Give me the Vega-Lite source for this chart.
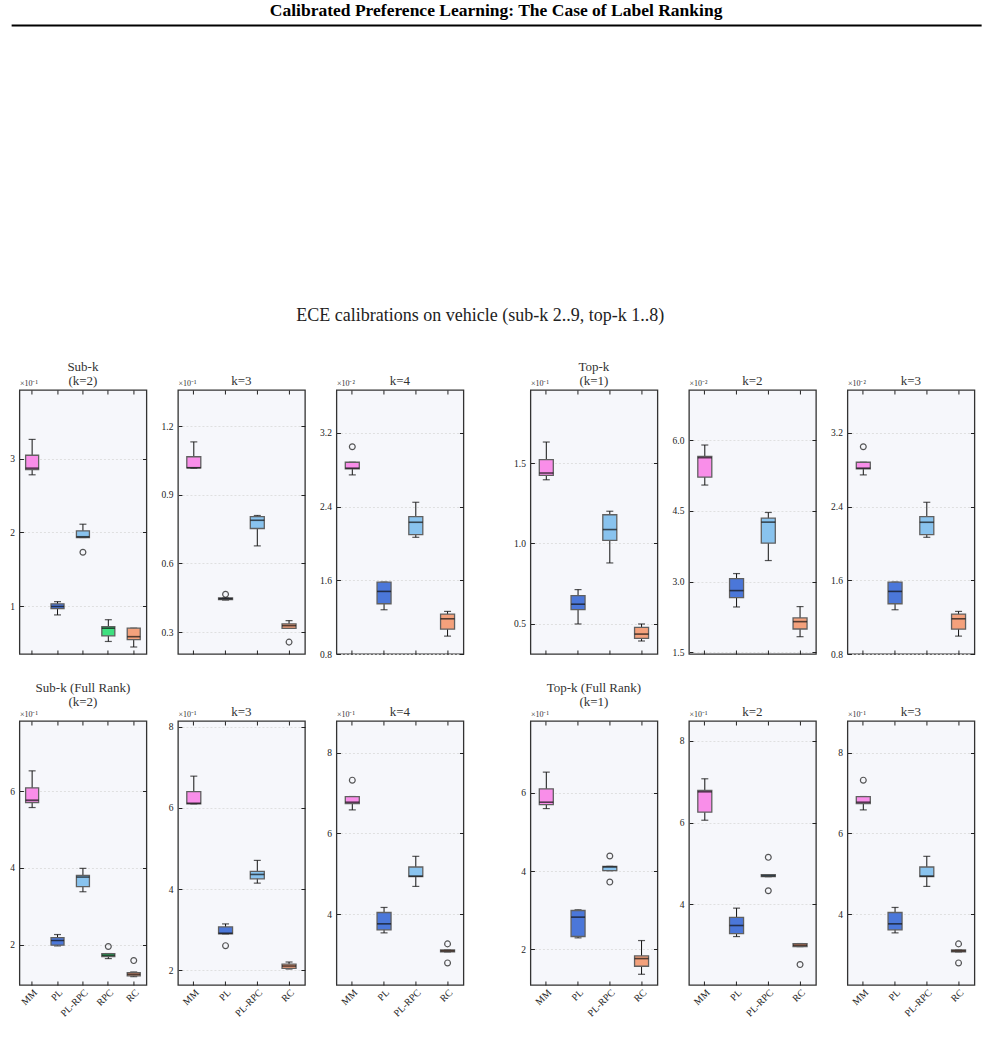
{
"$schema":"https://vega.github.io/schema/vega-lite/v6.json",
"padding":{"left":8,"top":2,"right":5,"bottom":5},
"datasets":{
"boxes":[
{"p":"r1c1","m":"MM","lo":0.278,"q1":0.285,"med":0.287,"q3":0.3045,"hi":0.326},
{"p":"r1c1","m":"PL","lo":0.088,"q1":0.0965,"med":0.0995,"q3":0.103,"hi":0.106},
{"p":"r1c1","m":"PL-RPC","lo":0.193,"q1":0.193,"med":0.194,"q3":0.202,"hi":0.211},
{"p":"r1c1","m":"RPC","lo":0.052,"q1":0.0595,"med":0.07,"q3":0.072,"hi":0.0815},
{"p":"r1c1","m":"RC","lo":0.0445,"q1":0.0545,"med":0.0585,"q3":0.07,"hi":0.07},
{"p":"r1c2","m":"MM","lo":0.1017,"q1":0.1018,"med":0.1019,"q3":0.1067,"hi":0.1132},
{"p":"r1c2","m":"PL","lo":0.044,"q1":0.0442,"med":0.0446,"q3":0.0449,"hi":0.045},
{"p":"r1c2","m":"PL-RPC","lo":0.0677,"q1":0.0753,"med":0.0789,"q3":0.0805,"hi":0.081},
{"p":"r1c2","m":"RC","lo":0.0316,"q1":0.0316,"med":0.0328,"q3":0.0336,"hi":0.035},
{"p":"r1c3","m":"MM","lo":0.02743,"q1":0.02809,"med":0.02816,"q3":0.0288,"hi":0.0288},
{"p":"r1c3","m":"PL","lo":0.0128,"q1":0.01345,"med":0.01479,"q3":0.0158,"hi":0.0158},
{"p":"r1c3","m":"PL-RPC","lo":0.02066,"q1":0.02095,"med":0.02229,"q3":0.02291,"hi":0.02446},
{"p":"r1c3","m":"RC","lo":0.00994,"q1":0.0107,"med":0.01182,"q3":0.01233,"hi":0.01262},
{"p":"r1c4","m":"MM","lo":0.1396,"q1":0.1423,"med":0.1438,"q3":0.1521,"hi":0.1631},
{"p":"r1c4","m":"PL","lo":0.0498,"q1":0.0587,"med":0.0621,"q3":0.0675,"hi":0.0712},
{"p":"r1c4","m":"PL-RPC","lo":0.0878,"q1":0.1018,"med":0.1086,"q3":0.1178,"hi":0.12},
{"p":"r1c4","m":"RC","lo":0.0392,"q1":0.0408,"med":0.0435,"q3":0.0477,"hi":0.0498},
{"p":"r1c5","m":"MM","lo":0.05045,"q1":0.05214,"med":0.05625,"q3":0.05653,"hi":0.05894},
{"p":"r1c5","m":"PL","lo":0.02461,"q1":0.0266,"med":0.02808,"q3":0.03063,"hi":0.03169},
{"p":"r1c5","m":"PL-RPC","lo":0.03445,"q1":0.03813,"med":0.04259,"q3":0.04344,"hi":0.04464},
{"p":"r1c5","m":"RC","lo":0.01831,"q1":0.01994,"med":0.0215,"q3":0.02228,"hi":0.02469},
{"p":"r1c6","m":"MM","lo":0.02743,"q1":0.02809,"med":0.02816,"q3":0.0288,"hi":0.0288},
{"p":"r1c6","m":"PL","lo":0.0128,"q1":0.01345,"med":0.01479,"q3":0.0158,"hi":0.0158},
{"p":"r1c6","m":"PL-RPC","lo":0.02066,"q1":0.02095,"med":0.02229,"q3":0.02291,"hi":0.02446},
{"p":"r1c6","m":"RC","lo":0.00994,"q1":0.0107,"med":0.01182,"q3":0.01233,"hi":0.01262},
{"p":"r2c1","m":"MM","lo":0.5573,"q1":0.5704,"med":0.5765,"q3":0.6087,"hi":0.653},
{"p":"r2c1","m":"PL","lo":0.1965,"q1":0.1983,"med":0.2105,"q3":0.2183,"hi":0.2261},
{"p":"r2c1","m":"PL-RPC","lo":0.3377,"q1":0.3508,"med":0.376,"q3":0.3804,"hi":0.3987},
{"p":"r2c1","m":"RPC","lo":0.1634,"q1":0.1686,"med":0.1721,"q3":0.1765,"hi":0.1765},
{"p":"r2c1","m":"RC","lo":0.1163,"q1":0.1181,"med":0.1224,"q3":0.1268,"hi":0.1285},
{"p":"r2c2","m":"MM","lo":0.6099,"q1":0.6099,"med":0.6115,"q3":0.6403,"hi":0.6782},
{"p":"r2c2","m":"PL","lo":0.2897,"q1":0.2897,"med":0.2914,"q3":0.307,"hi":0.3144},
{"p":"r2c2","m":"PL-RPC","lo":0.4148,"q1":0.4255,"med":0.4362,"q3":0.4436,"hi":0.4708},
{"p":"r2c2","m":"RC","lo":0.2033,"q1":0.2049,"med":0.2107,"q3":0.2156,"hi":0.2206},
{"p":"r2c3","m":"MM","lo":0.6584,"q1":0.6741,"med":0.6774,"q3":0.6915,"hi":0.6915},
{"p":"r2c3","m":"PL","lo":0.3536,"q1":0.3611,"med":0.376,"q3":0.4041,"hi":0.4166},
{"p":"r2c3","m":"PL-RPC","lo":0.4687,"q1":0.4928,"med":0.4944,"q3":0.5168,"hi":0.5433},
{"p":"r2c3","m":"RC","lo":0.3064,"q1":0.3064,"med":0.3089,"q3":0.3114,"hi":0.3114},
{"p":"r2c4","m":"MM","lo":0.5598,"q1":0.5701,"med":0.5761,"q3":0.6103,"hi":0.653},
{"p":"r2c4","m":"PL","lo":0.2291,"q1":0.2325,"med":0.2821,"q3":0.2991,"hi":0.3009},
{"p":"r2c4","m":"PL-RPC","lo":0.4009,"q1":0.4009,"med":0.4103,"q3":0.412,"hi":0.412},
{"p":"r2c4","m":"RC","lo":0.1359,"q1":0.1564,"med":0.1761,"q3":0.1829,"hi":0.2222},
{"p":"r2c5","m":"MM","lo":0.6057,"q1":0.6253,"med":0.6751,"q3":0.6784,"hi":0.7069},
{"p":"r2c5","m":"PL","lo":0.3216,"q1":0.329,"med":0.3486,"q3":0.3682,"hi":0.391},
{"p":"r2c5","m":"PL-RPC","lo":0.4678,"q1":0.4678,"med":0.4702,"q3":0.4727,"hi":0.4727},
{"p":"r2c5","m":"RC","lo":0.2971,"q1":0.2971,"med":0.3004,"q3":0.3045,"hi":0.3045},
{"p":"r2c6","m":"MM","lo":0.6584,"q1":0.6741,"med":0.6774,"q3":0.6915,"hi":0.6915},
{"p":"r2c6","m":"PL","lo":0.3536,"q1":0.3611,"med":0.376,"q3":0.4041,"hi":0.4166},
{"p":"r2c6","m":"PL-RPC","lo":0.4687,"q1":0.4928,"med":0.4944,"q3":0.5168,"hi":0.5433},
{"p":"r2c6","m":"RC","lo":0.3064,"q1":0.3064,"med":0.3089,"q3":0.3114,"hi":0.3114}
],
"outliers":[
{"p":"r1c1","m":"PL-RPC","v":0.173},
{"p":"r1c2","m":"PL","v":0.0465},
{"p":"r1c2","m":"RC","v":0.0256},
{"p":"r1c3","m":"MM","v":0.03048},
{"p":"r1c6","m":"MM","v":0.03048},
{"p":"r2c1","m":"RPC","v":0.1948},
{"p":"r2c1","m":"RC","v":0.1582},
{"p":"r2c2","m":"PL","v":0.2609},
{"p":"r2c3","m":"MM","v":0.7321},
{"p":"r2c3","m":"RC","v":0.3263},
{"p":"r2c3","m":"RC","v":0.2791},
{"p":"r2c4","m":"PL-RPC","v":0.4385},
{"p":"r2c4","m":"PL-RPC","v":0.3718},
{"p":"r2c5","m":"PL-RPC","v":0.5151},
{"p":"r2c5","m":"PL-RPC","v":0.4335},
{"p":"r2c5","m":"RC","v":0.2531},
{"p":"r2c6","m":"MM","v":0.7321},
{"p":"r2c6","m":"RC","v":0.3263},
{"p":"r2c6","m":"RC","v":0.2791}
],
"header":[{"v":0},{"v":1}],
"blank":[{"s":0}]
},
"center":true,
"spacing":279,
"vconcat":[
{
"width":970,"height":1,
"view":{"stroke":null,"fill":null},
"title":{"text":"Calibrated Preference Learning: The Case of Label Ranking","fontSize":17.5,"fontWeight":"bold","color":"#000","offset":2},
"data":{"name":"header"},
"mark":{"type":"point","opacity":0},
"encoding":{"x":{"field":"v","type":"quantitative","scale":{"domain":[0,1],"nice":false},"axis":{"orient":"bottom","labels":false,"ticks":false,"grid":false,"title":null,"domain":true,"domainColor":"#000","domainWidth":2}}}
},
{
"title":{"text":"ECE calibrations on vehicle (sub-k 2..9, top-k 1..8)","fontSize":18,"offset":35,"anchor":"middle","dx":-12,"color":"#222"},
"bounds":"flush",
"columns":7,
"spacing":{"row":67,"column":31.5},
"concat":[
{"width":127,"height":264,"title":{"text":["Sub-k","(k=2)"]},"data":{"name":"boxes"},"transform":[{"filter":"datum.p==='r1c1'"}],"resolve":{"axis":{"x":"independent","y":"independent"}},
"layer":[
{"mark":{"type":"rule","color":"#111","strokeWidth":1},"encoding":{"x":{"field":"m","type":"nominal","scale":{"domain":["MM","PL","PL-RPC","RPC","RC"],"paddingInner":0,"paddingOuter":0},"axis":{"orient":"bottom","labels":false,"title":null}},"y":{"field":"lo","type":"quantitative","scale":{"domain":[0.035,0.393],"nice":false,"zero":false},"axis":{"orient":"left","values":[0.1,0.2,0.3],"labelExpr":"format(datum.value*10,'.0f')","title":"×10⁻¹"}},"y2":{"field":"hi"}}},
{"mark":{"type":"tick","orient":"horizontal","size":7,"thickness":1.2,"color":"#111"},"encoding":{"x":{"field":"m","type":"nominal","axis":{"orient":"top","title":null}},"y":{"field":"lo","type":"quantitative","axis":{"orient":"right","values":[0.1,0.2,0.3],"title":null}}}},
{"mark":{"type":"tick","orient":"horizontal","size":7,"thickness":1.2,"color":"#111"},"encoding":{"x":{"field":"m","type":"nominal","axis":null},"y":{"field":"hi","type":"quantitative","axis":null}}},
{"mark":{"type":"bar","width":13,"stroke":"#606060","strokeWidth":1.3},"encoding":{"x":{"field":"m","type":"nominal","axis":null},"y":{"field":"q1","type":"quantitative","axis":null},"y2":{"field":"q3"},"color":{"field":"m","type":"nominal","scale":{"domain":["MM","PL","PL-RPC","RPC","RC"],"range":["#f98ee9","#4b77d9","#89c3ee","#3ee07f","#f4a17c"]},"legend":null}}},
{"mark":{"type":"tick","orient":"horizontal","size":13,"thickness":1.6,"color":"#111"},"encoding":{"x":{"field":"m","type":"nominal","axis":null},"y":{"field":"med","type":"quantitative","axis":null}}},
{"data":{"name":"outliers"},"transform":[{"filter":"datum.p==='r1c1'"}],"mark":{"type":"point","shape":"circle","filled":false,"color":"#111","size":34,"strokeWidth":1.2},"encoding":{"x":{"field":"m","type":"nominal","axis":null},"y":{"field":"v","type":"quantitative","axis":null}}}
]},
{"width":127,"height":264,"title":{"text":"k=3"},"data":{"name":"boxes"},"transform":[{"filter":"datum.p==='r1c2'"}],"resolve":{"axis":{"x":"independent","y":"independent"}},
"layer":[
{"mark":{"type":"rule","color":"#111","strokeWidth":1},"encoding":{"x":{"field":"m","type":"nominal","scale":{"domain":["MM","PL","PL-RPC","RC"],"paddingInner":0,"paddingOuter":0},"axis":{"orient":"bottom","labels":false,"title":null}},"y":{"field":"lo","type":"quantitative","scale":{"domain":[0.0204,0.1359],"nice":false,"zero":false},"axis":{"orient":"left","values":[0.03,0.06,0.09,0.12],"labelExpr":"format(datum.value*10,'.1f')","title":"×10⁻¹"}},"y2":{"field":"hi"}}},
{"mark":{"type":"tick","orient":"horizontal","size":7,"thickness":1.2,"color":"#111"},"encoding":{"x":{"field":"m","type":"nominal","axis":{"orient":"top","title":null}},"y":{"field":"lo","type":"quantitative","axis":{"orient":"right","values":[0.03,0.06,0.09,0.12],"title":null}}}},
{"mark":{"type":"tick","orient":"horizontal","size":7,"thickness":1.2,"color":"#111"},"encoding":{"x":{"field":"m","type":"nominal","axis":null},"y":{"field":"hi","type":"quantitative","axis":null}}},
{"mark":{"type":"bar","width":14,"stroke":"#606060","strokeWidth":1.3},"encoding":{"x":{"field":"m","type":"nominal","axis":null},"y":{"field":"q1","type":"quantitative","axis":null},"y2":{"field":"q3"},"color":{"field":"m","type":"nominal","scale":{"domain":["MM","PL","PL-RPC","RPC","RC"],"range":["#f98ee9","#4b77d9","#89c3ee","#3ee07f","#f4a17c"]},"legend":null}}},
{"mark":{"type":"tick","orient":"horizontal","size":14,"thickness":1.6,"color":"#111"},"encoding":{"x":{"field":"m","type":"nominal","axis":null},"y":{"field":"med","type":"quantitative","axis":null}}},
{"data":{"name":"outliers"},"transform":[{"filter":"datum.p==='r1c2'"}],"mark":{"type":"point","shape":"circle","filled":false,"color":"#111","size":34,"strokeWidth":1.2},"encoding":{"x":{"field":"m","type":"nominal","axis":null},"y":{"field":"v","type":"quantitative","axis":null}}}
]},
{"width":127,"height":264,"title":{"text":"k=4"},"data":{"name":"boxes"},"transform":[{"filter":"datum.p==='r1c3'"}],"resolve":{"axis":{"x":"independent","y":"independent"}},
"layer":[
{"mark":{"type":"rule","color":"#111","strokeWidth":1},"encoding":{"x":{"field":"m","type":"nominal","scale":{"domain":["MM","PL","PL-RPC","RC"],"paddingInner":0,"paddingOuter":0},"axis":{"orient":"bottom","labels":false,"title":null}},"y":{"field":"lo","type":"quantitative","scale":{"domain":[0.008,0.03664],"nice":false,"zero":false},"axis":{"orient":"left","values":[0.008,0.016,0.024,0.032],"labelExpr":"format(datum.value*100,'.1f')","title":"×10⁻²"}},"y2":{"field":"hi"}}},
{"mark":{"type":"tick","orient":"horizontal","size":7,"thickness":1.2,"color":"#111"},"encoding":{"x":{"field":"m","type":"nominal","axis":{"orient":"top","title":null}},"y":{"field":"lo","type":"quantitative","axis":{"orient":"right","values":[0.008,0.016,0.024,0.032],"title":null}}}},
{"mark":{"type":"tick","orient":"horizontal","size":7,"thickness":1.2,"color":"#111"},"encoding":{"x":{"field":"m","type":"nominal","axis":null},"y":{"field":"hi","type":"quantitative","axis":null}}},
{"mark":{"type":"bar","width":14,"stroke":"#606060","strokeWidth":1.3},"encoding":{"x":{"field":"m","type":"nominal","axis":null},"y":{"field":"q1","type":"quantitative","axis":null},"y2":{"field":"q3"},"color":{"field":"m","type":"nominal","scale":{"domain":["MM","PL","PL-RPC","RPC","RC"],"range":["#f98ee9","#4b77d9","#89c3ee","#3ee07f","#f4a17c"]},"legend":null}}},
{"mark":{"type":"tick","orient":"horizontal","size":14,"thickness":1.6,"color":"#111"},"encoding":{"x":{"field":"m","type":"nominal","axis":null},"y":{"field":"med","type":"quantitative","axis":null}}},
{"data":{"name":"outliers"},"transform":[{"filter":"datum.p==='r1c3'"}],"mark":{"type":"point","shape":"circle","filled":false,"color":"#111","size":34,"strokeWidth":1.2},"encoding":{"x":{"field":"m","type":"nominal","axis":null},"y":{"field":"v","type":"quantitative","axis":null}}}
]},
{"width":4,"height":264,"view":{"stroke":null,"fill":null},"data":{"name":"blank"},"mark":{"type":"point","opacity":0},"encoding":{}},
{"width":127,"height":264,"title":{"text":["Top-k","(k=1)"]},"data":{"name":"boxes"},"transform":[{"filter":"datum.p==='r1c4'"}],"resolve":{"axis":{"x":"independent","y":"independent"}},
"layer":[
{"mark":{"type":"rule","color":"#111","strokeWidth":1},"encoding":{"x":{"field":"m","type":"nominal","scale":{"domain":["MM","PL","PL-RPC","RC"],"paddingInner":0,"paddingOuter":0},"axis":{"orient":"bottom","labels":false,"title":null}},"y":{"field":"lo","type":"quantitative","scale":{"domain":[0.0311,0.1955],"nice":false,"zero":false},"axis":{"orient":"left","values":[0.05,0.1,0.15],"labelExpr":"format(datum.value*10,'.1f')","title":"×10⁻¹"}},"y2":{"field":"hi"}}},
{"mark":{"type":"tick","orient":"horizontal","size":7,"thickness":1.2,"color":"#111"},"encoding":{"x":{"field":"m","type":"nominal","axis":{"orient":"top","title":null}},"y":{"field":"lo","type":"quantitative","axis":{"orient":"right","values":[0.05,0.1,0.15],"title":null}}}},
{"mark":{"type":"tick","orient":"horizontal","size":7,"thickness":1.2,"color":"#111"},"encoding":{"x":{"field":"m","type":"nominal","axis":null},"y":{"field":"hi","type":"quantitative","axis":null}}},
{"mark":{"type":"bar","width":14,"stroke":"#606060","strokeWidth":1.3},"encoding":{"x":{"field":"m","type":"nominal","axis":null},"y":{"field":"q1","type":"quantitative","axis":null},"y2":{"field":"q3"},"color":{"field":"m","type":"nominal","scale":{"domain":["MM","PL","PL-RPC","RPC","RC"],"range":["#f98ee9","#4b77d9","#89c3ee","#3ee07f","#f4a17c"]},"legend":null}}},
{"mark":{"type":"tick","orient":"horizontal","size":14,"thickness":1.6,"color":"#111"},"encoding":{"x":{"field":"m","type":"nominal","axis":null},"y":{"field":"med","type":"quantitative","axis":null}}},
{"data":{"name":"outliers"},"transform":[{"filter":"datum.p==='r1c4'"}],"mark":{"type":"point","shape":"circle","filled":false,"color":"#111","size":34,"strokeWidth":1.2},"encoding":{"x":{"field":"m","type":"nominal","axis":null},"y":{"field":"v","type":"quantitative","axis":null}}}
]},
{"width":127,"height":264,"title":{"text":"k=2"},"data":{"name":"boxes"},"transform":[{"filter":"datum.p==='r1c5'"}],"resolve":{"axis":{"x":"independent","y":"independent"}},
"layer":[
{"mark":{"type":"rule","color":"#111","strokeWidth":1},"encoding":{"x":{"field":"m","type":"nominal","scale":{"domain":["MM","PL","PL-RPC","RC"],"paddingInner":0,"paddingOuter":0},"axis":{"orient":"bottom","labels":false,"title":null}},"y":{"field":"lo","type":"quantitative","scale":{"domain":[0.01464,0.0706],"nice":false,"zero":false},"axis":{"orient":"left","values":[0.015,0.03,0.045,0.06],"labelExpr":"format(datum.value*100,'.1f')","title":"×10⁻²"}},"y2":{"field":"hi"}}},
{"mark":{"type":"tick","orient":"horizontal","size":7,"thickness":1.2,"color":"#111"},"encoding":{"x":{"field":"m","type":"nominal","axis":{"orient":"top","title":null}},"y":{"field":"lo","type":"quantitative","axis":{"orient":"right","values":[0.015,0.03,0.045,0.06],"title":null}}}},
{"mark":{"type":"tick","orient":"horizontal","size":7,"thickness":1.2,"color":"#111"},"encoding":{"x":{"field":"m","type":"nominal","axis":null},"y":{"field":"hi","type":"quantitative","axis":null}}},
{"mark":{"type":"bar","width":14,"stroke":"#606060","strokeWidth":1.3},"encoding":{"x":{"field":"m","type":"nominal","axis":null},"y":{"field":"q1","type":"quantitative","axis":null},"y2":{"field":"q3"},"color":{"field":"m","type":"nominal","scale":{"domain":["MM","PL","PL-RPC","RPC","RC"],"range":["#f98ee9","#4b77d9","#89c3ee","#3ee07f","#f4a17c"]},"legend":null}}},
{"mark":{"type":"tick","orient":"horizontal","size":14,"thickness":1.6,"color":"#111"},"encoding":{"x":{"field":"m","type":"nominal","axis":null},"y":{"field":"med","type":"quantitative","axis":null}}},
{"data":{"name":"outliers"},"transform":[{"filter":"datum.p==='r1c5'"}],"mark":{"type":"point","shape":"circle","filled":false,"color":"#111","size":34,"strokeWidth":1.2},"encoding":{"x":{"field":"m","type":"nominal","axis":null},"y":{"field":"v","type":"quantitative","axis":null}}}
]},
{"width":127,"height":264,"title":{"text":"k=3"},"data":{"name":"boxes"},"transform":[{"filter":"datum.p==='r1c6'"}],"resolve":{"axis":{"x":"independent","y":"independent"}},
"layer":[
{"mark":{"type":"rule","color":"#111","strokeWidth":1},"encoding":{"x":{"field":"m","type":"nominal","scale":{"domain":["MM","PL","PL-RPC","RC"],"paddingInner":0,"paddingOuter":0},"axis":{"orient":"bottom","labels":false,"title":null}},"y":{"field":"lo","type":"quantitative","scale":{"domain":[0.008,0.03664],"nice":false,"zero":false},"axis":{"orient":"left","values":[0.008,0.016,0.024,0.032],"labelExpr":"format(datum.value*100,'.1f')","title":"×10⁻²"}},"y2":{"field":"hi"}}},
{"mark":{"type":"tick","orient":"horizontal","size":7,"thickness":1.2,"color":"#111"},"encoding":{"x":{"field":"m","type":"nominal","axis":{"orient":"top","title":null}},"y":{"field":"lo","type":"quantitative","axis":{"orient":"right","values":[0.008,0.016,0.024,0.032],"title":null}}}},
{"mark":{"type":"tick","orient":"horizontal","size":7,"thickness":1.2,"color":"#111"},"encoding":{"x":{"field":"m","type":"nominal","axis":null},"y":{"field":"hi","type":"quantitative","axis":null}}},
{"mark":{"type":"bar","width":14,"stroke":"#606060","strokeWidth":1.3},"encoding":{"x":{"field":"m","type":"nominal","axis":null},"y":{"field":"q1","type":"quantitative","axis":null},"y2":{"field":"q3"},"color":{"field":"m","type":"nominal","scale":{"domain":["MM","PL","PL-RPC","RPC","RC"],"range":["#f98ee9","#4b77d9","#89c3ee","#3ee07f","#f4a17c"]},"legend":null}}},
{"mark":{"type":"tick","orient":"horizontal","size":14,"thickness":1.6,"color":"#111"},"encoding":{"x":{"field":"m","type":"nominal","axis":null},"y":{"field":"med","type":"quantitative","axis":null}}},
{"data":{"name":"outliers"},"transform":[{"filter":"datum.p==='r1c6'"}],"mark":{"type":"point","shape":"circle","filled":false,"color":"#111","size":34,"strokeWidth":1.2},"encoding":{"x":{"field":"m","type":"nominal","axis":null},"y":{"field":"v","type":"quantitative","axis":null}}}
]},
{"width":127,"height":264,"title":{"text":["Sub-k (Full Rank)","(k=2)"],"offset":1},"data":{"name":"boxes"},"transform":[{"filter":"datum.p==='r2c1'"}],"resolve":{"axis":{"x":"independent","y":"independent"}},
"layer":[
{"mark":{"type":"rule","color":"#111","strokeWidth":1},"encoding":{"x":{"field":"m","type":"nominal","scale":{"domain":["MM","PL","PL-RPC","RPC","RC"],"paddingInner":0,"paddingOuter":0},"axis":{"orient":"bottom","labelAngle":-45,"labelAlign":"right","labelBaseline":"top","labelPadding":6,"labelFontSize":10,"title":null}},"y":{"field":"lo","type":"quantitative","scale":{"domain":[0.0945,0.783],"nice":false,"zero":false},"axis":{"orient":"left","values":[0.2,0.4,0.6],"labelExpr":"format(datum.value*10,'.0f')","title":"×10⁻¹"}},"y2":{"field":"hi"}}},
{"mark":{"type":"tick","orient":"horizontal","size":7,"thickness":1.2,"color":"#111"},"encoding":{"x":{"field":"m","type":"nominal","axis":{"orient":"top","title":null}},"y":{"field":"lo","type":"quantitative","axis":{"orient":"right","values":[0.2,0.4,0.6],"title":null}}}},
{"mark":{"type":"tick","orient":"horizontal","size":7,"thickness":1.2,"color":"#111"},"encoding":{"x":{"field":"m","type":"nominal","axis":null},"y":{"field":"hi","type":"quantitative","axis":null}}},
{"mark":{"type":"bar","width":13,"stroke":"#606060","strokeWidth":1.3},"encoding":{"x":{"field":"m","type":"nominal","axis":null},"y":{"field":"q1","type":"quantitative","axis":null},"y2":{"field":"q3"},"color":{"field":"m","type":"nominal","scale":{"domain":["MM","PL","PL-RPC","RPC","RC"],"range":["#f98ee9","#4b77d9","#89c3ee","#3ee07f","#f4a17c"]},"legend":null}}},
{"mark":{"type":"tick","orient":"horizontal","size":13,"thickness":1.6,"color":"#111"},"encoding":{"x":{"field":"m","type":"nominal","axis":null},"y":{"field":"med","type":"quantitative","axis":null}}},
{"data":{"name":"outliers"},"transform":[{"filter":"datum.p==='r2c1'"}],"mark":{"type":"point","shape":"circle","filled":false,"color":"#111","size":34,"strokeWidth":1.2},"encoding":{"x":{"field":"m","type":"nominal","axis":null},"y":{"field":"v","type":"quantitative","axis":null}}}
]},
{"width":127,"height":264,"title":{"text":"k=3"},"data":{"name":"boxes"},"transform":[{"filter":"datum.p==='r2c2'"}],"resolve":{"axis":{"x":"independent","y":"independent"}},
"layer":[
{"mark":{"type":"rule","color":"#111","strokeWidth":1},"encoding":{"x":{"field":"m","type":"nominal","scale":{"domain":["MM","PL","PL-RPC","RC"],"paddingInner":0,"paddingOuter":0},"axis":{"orient":"bottom","labelAngle":-45,"labelAlign":"right","labelBaseline":"top","labelPadding":6,"labelFontSize":10,"title":null}},"y":{"field":"lo","type":"quantitative","scale":{"domain":[0.164,0.814],"nice":false,"zero":false},"axis":{"orient":"left","values":[0.2,0.4,0.6,0.8],"labelExpr":"format(datum.value*10,'.0f')","title":"×10⁻¹"}},"y2":{"field":"hi"}}},
{"mark":{"type":"tick","orient":"horizontal","size":7,"thickness":1.2,"color":"#111"},"encoding":{"x":{"field":"m","type":"nominal","axis":{"orient":"top","title":null}},"y":{"field":"lo","type":"quantitative","axis":{"orient":"right","values":[0.2,0.4,0.6,0.8],"title":null}}}},
{"mark":{"type":"tick","orient":"horizontal","size":7,"thickness":1.2,"color":"#111"},"encoding":{"x":{"field":"m","type":"nominal","axis":null},"y":{"field":"hi","type":"quantitative","axis":null}}},
{"mark":{"type":"bar","width":14,"stroke":"#606060","strokeWidth":1.3},"encoding":{"x":{"field":"m","type":"nominal","axis":null},"y":{"field":"q1","type":"quantitative","axis":null},"y2":{"field":"q3"},"color":{"field":"m","type":"nominal","scale":{"domain":["MM","PL","PL-RPC","RPC","RC"],"range":["#f98ee9","#4b77d9","#89c3ee","#3ee07f","#f4a17c"]},"legend":null}}},
{"mark":{"type":"tick","orient":"horizontal","size":14,"thickness":1.6,"color":"#111"},"encoding":{"x":{"field":"m","type":"nominal","axis":null},"y":{"field":"med","type":"quantitative","axis":null}}},
{"data":{"name":"outliers"},"transform":[{"filter":"datum.p==='r2c2'"}],"mark":{"type":"point","shape":"circle","filled":false,"color":"#111","size":34,"strokeWidth":1.2},"encoding":{"x":{"field":"m","type":"nominal","axis":null},"y":{"field":"v","type":"quantitative","axis":null}}}
]},
{"width":127,"height":264,"title":{"text":"k=4"},"data":{"name":"boxes"},"transform":[{"filter":"datum.p==='r2c3'"}],"resolve":{"axis":{"x":"independent","y":"independent"}},
"layer":[
{"mark":{"type":"rule","color":"#111","strokeWidth":1},"encoding":{"x":{"field":"m","type":"nominal","scale":{"domain":["MM","PL","PL-RPC","RC"],"paddingInner":0,"paddingOuter":0},"axis":{"orient":"bottom","labelAngle":-45,"labelAlign":"right","labelBaseline":"top","labelPadding":6,"labelFontSize":10,"title":null}},"y":{"field":"lo","type":"quantitative","scale":{"domain":[0.2244,0.8787],"nice":false,"zero":false},"axis":{"orient":"left","values":[0.4,0.6,0.8],"labelExpr":"format(datum.value*10,'.0f')","title":"×10⁻¹"}},"y2":{"field":"hi"}}},
{"mark":{"type":"tick","orient":"horizontal","size":7,"thickness":1.2,"color":"#111"},"encoding":{"x":{"field":"m","type":"nominal","axis":{"orient":"top","title":null}},"y":{"field":"lo","type":"quantitative","axis":{"orient":"right","values":[0.4,0.6,0.8],"title":null}}}},
{"mark":{"type":"tick","orient":"horizontal","size":7,"thickness":1.2,"color":"#111"},"encoding":{"x":{"field":"m","type":"nominal","axis":null},"y":{"field":"hi","type":"quantitative","axis":null}}},
{"mark":{"type":"bar","width":14,"stroke":"#606060","strokeWidth":1.3},"encoding":{"x":{"field":"m","type":"nominal","axis":null},"y":{"field":"q1","type":"quantitative","axis":null},"y2":{"field":"q3"},"color":{"field":"m","type":"nominal","scale":{"domain":["MM","PL","PL-RPC","RPC","RC"],"range":["#f98ee9","#4b77d9","#89c3ee","#3ee07f","#f4a17c"]},"legend":null}}},
{"mark":{"type":"tick","orient":"horizontal","size":14,"thickness":1.6,"color":"#111"},"encoding":{"x":{"field":"m","type":"nominal","axis":null},"y":{"field":"med","type":"quantitative","axis":null}}},
{"data":{"name":"outliers"},"transform":[{"filter":"datum.p==='r2c3'"}],"mark":{"type":"point","shape":"circle","filled":false,"color":"#111","size":34,"strokeWidth":1.2},"encoding":{"x":{"field":"m","type":"nominal","axis":null},"y":{"field":"v","type":"quantitative","axis":null}}}
]},
{"width":4,"height":264,"view":{"stroke":null,"fill":null},"data":{"name":"blank"},"mark":{"type":"point","opacity":0},"encoding":{}},
{"width":127,"height":264,"title":{"text":["Top-k (Full Rank)","(k=1)"],"offset":1},"data":{"name":"boxes"},"transform":[{"filter":"datum.p==='r2c4'"}],"resolve":{"axis":{"x":"independent","y":"independent"}},
"layer":[
{"mark":{"type":"rule","color":"#111","strokeWidth":1},"encoding":{"x":{"field":"m","type":"nominal","scale":{"domain":["MM","PL","PL-RPC","RC"],"paddingInner":0,"paddingOuter":0},"axis":{"orient":"bottom","labelAngle":-45,"labelAlign":"right","labelBaseline":"top","labelPadding":6,"labelFontSize":10,"title":null}},"y":{"field":"lo","type":"quantitative","scale":{"domain":[0.1085,0.7838],"nice":false,"zero":false},"axis":{"orient":"left","values":[0.2,0.4,0.6],"labelExpr":"format(datum.value*10,'.0f')","title":"×10⁻¹"}},"y2":{"field":"hi"}}},
{"mark":{"type":"tick","orient":"horizontal","size":7,"thickness":1.2,"color":"#111"},"encoding":{"x":{"field":"m","type":"nominal","axis":{"orient":"top","title":null}},"y":{"field":"lo","type":"quantitative","axis":{"orient":"right","values":[0.2,0.4,0.6],"title":null}}}},
{"mark":{"type":"tick","orient":"horizontal","size":7,"thickness":1.2,"color":"#111"},"encoding":{"x":{"field":"m","type":"nominal","axis":null},"y":{"field":"hi","type":"quantitative","axis":null}}},
{"mark":{"type":"bar","width":14,"stroke":"#606060","strokeWidth":1.3},"encoding":{"x":{"field":"m","type":"nominal","axis":null},"y":{"field":"q1","type":"quantitative","axis":null},"y2":{"field":"q3"},"color":{"field":"m","type":"nominal","scale":{"domain":["MM","PL","PL-RPC","RPC","RC"],"range":["#f98ee9","#4b77d9","#89c3ee","#3ee07f","#f4a17c"]},"legend":null}}},
{"mark":{"type":"tick","orient":"horizontal","size":14,"thickness":1.6,"color":"#111"},"encoding":{"x":{"field":"m","type":"nominal","axis":null},"y":{"field":"med","type":"quantitative","axis":null}}},
{"data":{"name":"outliers"},"transform":[{"filter":"datum.p==='r2c4'"}],"mark":{"type":"point","shape":"circle","filled":false,"color":"#111","size":34,"strokeWidth":1.2},"encoding":{"x":{"field":"m","type":"nominal","axis":null},"y":{"field":"v","type":"quantitative","axis":null}}}
]},
{"width":127,"height":264,"title":{"text":"k=2"},"data":{"name":"boxes"},"transform":[{"filter":"datum.p==='r2c5'"}],"resolve":{"axis":{"x":"independent","y":"independent"}},
"layer":[
{"mark":{"type":"rule","color":"#111","strokeWidth":1},"encoding":{"x":{"field":"m","type":"nominal","scale":{"domain":["MM","PL","PL-RPC","RC"],"paddingInner":0,"paddingOuter":0},"axis":{"orient":"bottom","labelAngle":-45,"labelAlign":"right","labelBaseline":"top","labelPadding":6,"labelFontSize":10,"title":null}},"y":{"field":"lo","type":"quantitative","scale":{"domain":[0.2033,0.848],"nice":false,"zero":false},"axis":{"orient":"left","values":[0.4,0.6,0.8],"labelExpr":"format(datum.value*10,'.0f')","title":"×10⁻¹"}},"y2":{"field":"hi"}}},
{"mark":{"type":"tick","orient":"horizontal","size":7,"thickness":1.2,"color":"#111"},"encoding":{"x":{"field":"m","type":"nominal","axis":{"orient":"top","title":null}},"y":{"field":"lo","type":"quantitative","axis":{"orient":"right","values":[0.4,0.6,0.8],"title":null}}}},
{"mark":{"type":"tick","orient":"horizontal","size":7,"thickness":1.2,"color":"#111"},"encoding":{"x":{"field":"m","type":"nominal","axis":null},"y":{"field":"hi","type":"quantitative","axis":null}}},
{"mark":{"type":"bar","width":14,"stroke":"#606060","strokeWidth":1.3},"encoding":{"x":{"field":"m","type":"nominal","axis":null},"y":{"field":"q1","type":"quantitative","axis":null},"y2":{"field":"q3"},"color":{"field":"m","type":"nominal","scale":{"domain":["MM","PL","PL-RPC","RPC","RC"],"range":["#f98ee9","#4b77d9","#89c3ee","#3ee07f","#f4a17c"]},"legend":null}}},
{"mark":{"type":"tick","orient":"horizontal","size":14,"thickness":1.6,"color":"#111"},"encoding":{"x":{"field":"m","type":"nominal","axis":null},"y":{"field":"med","type":"quantitative","axis":null}}},
{"data":{"name":"outliers"},"transform":[{"filter":"datum.p==='r2c5'"}],"mark":{"type":"point","shape":"circle","filled":false,"color":"#111","size":34,"strokeWidth":1.2},"encoding":{"x":{"field":"m","type":"nominal","axis":null},"y":{"field":"v","type":"quantitative","axis":null}}}
]},
{"width":127,"height":264,"title":{"text":"k=3"},"data":{"name":"boxes"},"transform":[{"filter":"datum.p==='r2c6'"}],"resolve":{"axis":{"x":"independent","y":"independent"}},
"layer":[
{"mark":{"type":"rule","color":"#111","strokeWidth":1},"encoding":{"x":{"field":"m","type":"nominal","scale":{"domain":["MM","PL","PL-RPC","RC"],"paddingInner":0,"paddingOuter":0},"axis":{"orient":"bottom","labelAngle":-45,"labelAlign":"right","labelBaseline":"top","labelPadding":6,"labelFontSize":10,"title":null}},"y":{"field":"lo","type":"quantitative","scale":{"domain":[0.2244,0.8787],"nice":false,"zero":false},"axis":{"orient":"left","values":[0.4,0.6,0.8],"labelExpr":"format(datum.value*10,'.0f')","title":"×10⁻¹"}},"y2":{"field":"hi"}}},
{"mark":{"type":"tick","orient":"horizontal","size":7,"thickness":1.2,"color":"#111"},"encoding":{"x":{"field":"m","type":"nominal","axis":{"orient":"top","title":null}},"y":{"field":"lo","type":"quantitative","axis":{"orient":"right","values":[0.4,0.6,0.8],"title":null}}}},
{"mark":{"type":"tick","orient":"horizontal","size":7,"thickness":1.2,"color":"#111"},"encoding":{"x":{"field":"m","type":"nominal","axis":null},"y":{"field":"hi","type":"quantitative","axis":null}}},
{"mark":{"type":"bar","width":14,"stroke":"#606060","strokeWidth":1.3},"encoding":{"x":{"field":"m","type":"nominal","axis":null},"y":{"field":"q1","type":"quantitative","axis":null},"y2":{"field":"q3"},"color":{"field":"m","type":"nominal","scale":{"domain":["MM","PL","PL-RPC","RPC","RC"],"range":["#f98ee9","#4b77d9","#89c3ee","#3ee07f","#f4a17c"]},"legend":null}}},
{"mark":{"type":"tick","orient":"horizontal","size":14,"thickness":1.6,"color":"#111"},"encoding":{"x":{"field":"m","type":"nominal","axis":null},"y":{"field":"med","type":"quantitative","axis":null}}},
{"data":{"name":"outliers"},"transform":[{"filter":"datum.p==='r2c6'"}],"mark":{"type":"point","shape":"circle","filled":false,"color":"#111","size":34,"strokeWidth":1.2},"encoding":{"x":{"field":"m","type":"nominal","axis":null},"y":{"field":"v","type":"quantitative","axis":null}}}
]}
]
}
],
"config":{
"font":"Liberation Serif",
"view":{"stroke":"#333","strokeWidth":1.3,"fill":"#f6f7fb"},
"axis":{"domain":false,"tickSize":-4,"tickColor":"#222","tickWidth":1,"labelFont":"Liberation Serif","labelFontSize":9.5,"labelColor":"#222","labelPadding":9,"grid":false,"titleFont":"Liberation Serif","titleFontWeight":"normal","titleColor":"#333"},
"axisLeft":{"grid":true,"gridDash":[2,2],"gridColor":"#d9d9d9","gridWidth":0.8,"titleAngle":0,"titleAlign":"left","titleBaseline":"bottom","titleX":0,"titleY":-3,"titleFontSize":8},
"axisRight":{"labels":false},
"axisTop":{"labels":false},
"title":{"font":"Liberation Serif","fontWeight":"normal","fontSize":13,"color":"#333","lineHeight":14,"offset":-9}
}
}
